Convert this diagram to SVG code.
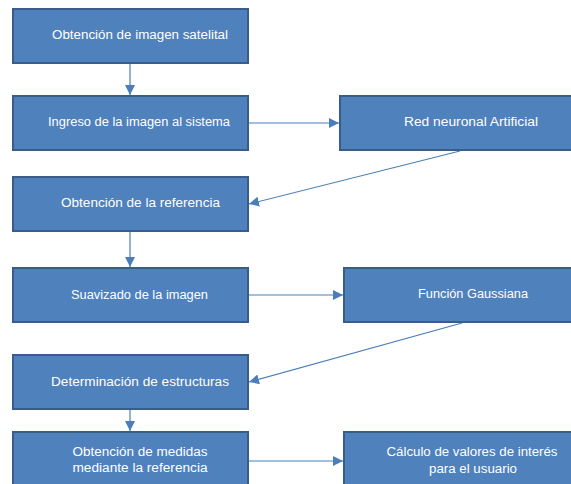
<svg xmlns="http://www.w3.org/2000/svg" width="571" height="484" viewBox="0 0 571 484">
<style>
.box{fill:#4F81BD;stroke:#385D8A;stroke-width:2}
.t{font-family:"Liberation Sans",Arial,sans-serif;font-size:12px;fill:#FFFFFF;text-anchor:middle;dominant-baseline:central}
.c{stroke:#4A7EBB;stroke-width:1.2;fill:none;marker-end:url(#ah)}
</style>
<defs>
<marker id="ah" viewBox="0 0 10 10" refX="10" refY="5" markerWidth="10" markerHeight="10" markerUnits="userSpaceOnUse" orient="auto">
<path d="M0,0 L10,5 L0,10 Z" fill="#4A7EBB"/>
</marker>
</defs>
<rect width="571" height="484" fill="#FFFFFF"/>
<g id="n1"><rect class="box" x="13" y="9" width="235" height="54"/><text class="t" x="140" y="35" textLength="176" lengthAdjust="spacingAndGlyphs">Obtención de imagen satelital</text></g>
<g id="n2"><rect class="box" x="13" y="96" width="235" height="54"/><text class="t" x="139" y="122" textLength="182" lengthAdjust="spacingAndGlyphs">Ingreso de la imagen al sistema</text></g>
<g id="n3"><rect class="box" x="340" y="96" width="260" height="54"/><text class="t" x="471" y="122" textLength="134" lengthAdjust="spacingAndGlyphs">Red neuronal Artificial</text></g>
<g id="n4"><rect class="box" x="13" y="177" width="235" height="54"/><text class="t" x="140.5" y="203" textLength="159" lengthAdjust="spacingAndGlyphs">Obtención de la referencia</text></g>
<g id="n5"><rect class="box" x="13" y="268" width="235" height="54"/><text class="t" x="139.5" y="295" textLength="137" lengthAdjust="spacingAndGlyphs">Suavizado de la imagen</text></g>
<g id="n6"><rect class="box" x="344" y="268" width="256" height="54"/><text class="t" x="473" y="294" textLength="110" lengthAdjust="spacingAndGlyphs">Función Gaussiana</text></g>
<g id="n7"><rect class="box" x="13" y="355" width="235" height="54"/><text class="t" x="140" y="382" textLength="178" lengthAdjust="spacingAndGlyphs">Determinación de estructuras</text></g>
<g id="n8"><rect class="box" x="13" y="432" width="235" height="62"/><text class="t" x="140" y="452" textLength="135" lengthAdjust="spacingAndGlyphs">Obtención de medidas</text><text class="t" x="140" y="468" textLength="135" lengthAdjust="spacingAndGlyphs">mediante la referencia</text></g>
<g id="n9"><rect class="box" x="344" y="432" width="256" height="62"/><text class="t" x="472" y="452" textLength="171" lengthAdjust="spacingAndGlyphs">Cálculo de valores de interés</text><text class="t" x="473" y="469" textLength="88" lengthAdjust="spacingAndGlyphs">para el usuario</text></g>
<g id="connectors">
<line class="c" x1="130" y1="64" x2="130" y2="95"/>
<line class="c" x1="249" y1="123" x2="339" y2="123"/>
<line class="c" x1="460" y1="151" x2="249" y2="204"/>
<line class="c" x1="130" y1="232" x2="130" y2="267"/>
<line class="c" x1="249" y1="295" x2="343" y2="295"/>
<line class="c" x1="462" y1="323" x2="249" y2="382"/>
<line class="c" x1="130" y1="410" x2="130" y2="431"/>
<line class="c" x1="249" y1="461" x2="343" y2="461"/>
</g>
</svg>
